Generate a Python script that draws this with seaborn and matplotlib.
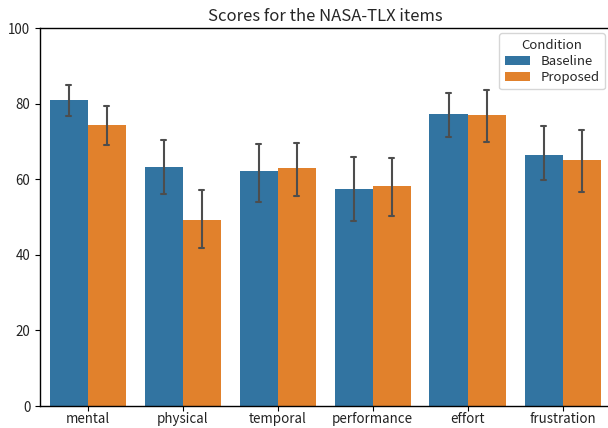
import numpy as np
import pandas as pd
import matplotlib
matplotlib.use("Agg")
import matplotlib.pyplot as plt
import seaborn as sns

items = ["mental", "physical", "temporal", "performance", "effort", "frustration"]
conditions = ["Baseline", "Proposed"]
baseline_mean = [81.0, 63.2, 62.2, 57.4, 77.2, 66.4]
baseline_lo = [76.6, 56.1, 54.1, 49.0, 71.2, 59.8]
baseline_hi = [84.9, 70.4, 69.4, 66.0, 82.9, 74.2]
proposed_mean = [74.3, 49.2, 63.0, 58.2, 77.0, 65.1]
proposed_lo = [69.0, 41.8, 55.6, 50.3, 69.8, 56.6]
proposed_hi = [79.4, 57.1, 69.7, 65.7, 83.5, 72.9]

rows = []
for cond, means, los, his in [("Baseline", baseline_mean, baseline_lo, baseline_hi),
                              ("Proposed", proposed_mean, proposed_lo, proposed_hi)]:
    for it, m, lo, hi in zip(items, means, los, his):
        for v in (lo, m, hi):
            rows.append({"item": it, "Condition": cond, "score": v})
df = pd.DataFrame(rows)

sns.set_style("white")
plt.rcParams['font.family'] = ['Noto Sans CJK JP', 'DejaVu Sans']

fig = plt.figure(figsize=(6.08, 4.28), dpi=100)
ax = fig.add_axes([40 / 608, (428 - 406) / 428, (610 - 40) / 608, (406 - 28) / 428])

sns.barplot(data=df, x="item", y="score", hue="Condition", order=items,
            hue_order=conditions, estimator="median",
            errorbar=lambda v: (np.min(v), np.max(v)),
            capsize=0.1, linewidth=0, edgecolor="none",
            err_kws={"linewidth": 1.5, "color": ".3"}, ax=ax)

ax.set_ylim(0, 100)
ax.set_xlabel("")
ax.set_ylabel("")
ax.set_title("Scores for the NASA-TLX items", fontsize=12, pad=5)
ax.tick_params(axis="both", labelsize=9.6, length=3.5, width=0.8, color="black",
               labelcolor="#222222", bottom=True, left=True)
ax.tick_params(axis="x", pad=0.5)
for s in ax.spines.values():
    s.set_color("black")
    s.set_linewidth(1.0)
ax.spines["right"].set_visible(False)
leg = ax.legend(title="Condition", loc="upper right", fontsize=9.5, title_fontsize=9.5,
                handlelength=1.9, labelspacing=0.25, borderaxespad=0.4)

fig.savefig("out.png", dpi=100)
